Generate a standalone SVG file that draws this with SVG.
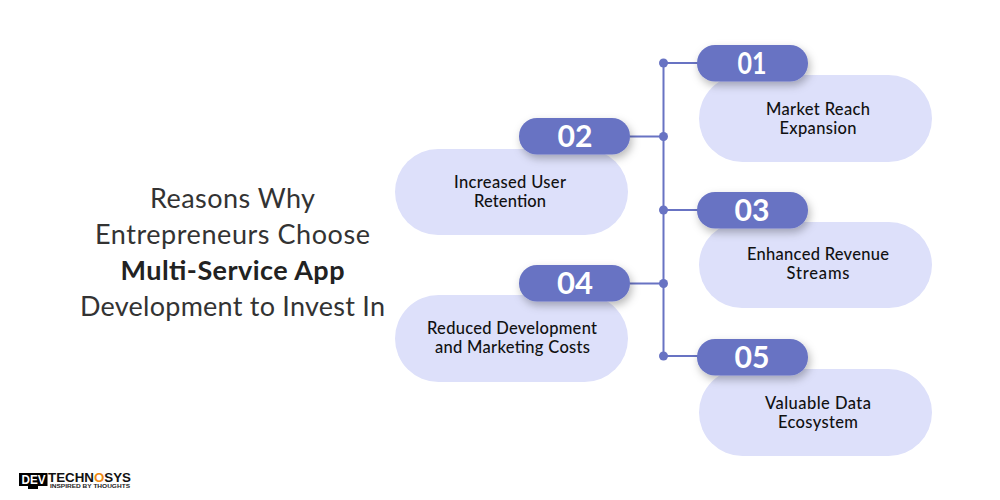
<svg xmlns="http://www.w3.org/2000/svg" width="1000" height="500" viewBox="0 0 1000 500">
<defs>
<filter id="sh" x="-20%" y="-30%" width="140%" height="170%"><feDropShadow dx="2" dy="4" stdDeviation="4" flood-color="#000" flood-opacity="0.28"/></filter>
</defs>
<style>
text{font-family:"Lato","Noto Sans",sans-serif;text-anchor:middle}
.card{fill:#dde0fa}
.pill{fill:#6873c3;filter:url(#sh)}
.num{font-size:30px;font-weight:700;fill:#fff}
.lbl{font-size:16.500px;font-weight:500;fill:#111}
.ttl{font-size:27px;fill:#333}
.ln{stroke:#6873c3;stroke-width:2;fill:none}
.dot{fill:#6873c3}
.logo{font-family:"Liberation Sans",sans-serif;font-weight:700}
</style>
<rect width="1000" height="500" fill="#fff"/>
<g id="title">
<text class="ttl" x="232.500" y="208" textLength="165">Reasons Why</text>
<text class="ttl" x="232.500" y="244" textLength="275">Entrepreneurs Choose</text>
<text class="ttl" x="232.500" y="280" textLength="224" style="font-weight:700;fill:#222">Multi-Service App</text>
<text class="ttl" x="232.500" y="316" textLength="305">Development to Invest In</text>
</g>
<g id="connectors">
<path class="ln" d="M663.500 63V356M663.500 63H700M630 136.500H663.500M663.500 210H700M630 283.500H663.500M663.500 356H700"/>
<circle class="dot" cx="663.500" cy="63" r="4.500"/>
<circle class="dot" cx="663.500" cy="136.500" r="4.500"/>
<circle class="dot" cx="663.500" cy="210" r="4.500"/>
<circle class="dot" cx="663.500" cy="283.500" r="4.500"/>
<circle class="dot" cx="663.500" cy="356" r="4.500"/>
</g>
<g id="node-01">
<rect class="card" x="699" y="75" width="233" height="87" rx="43.500"/>
<rect class="pill" x="697" y="45" width="111" height="36.500" rx="18"/>
<text class="num" x="752" y="74" textLength="29" lengthAdjust="spacingAndGlyphs">01</text>
<text class="lbl" x="818" y="115" textLength="104">Market Reach</text>
<text class="lbl" x="818" y="134" textLength="77">Expansion</text>
</g>
<g id="node-02">
<rect class="card" x="395" y="149" width="233" height="86" rx="43"/>
<rect class="pill" x="519" y="118" width="111" height="36.500" rx="18"/>
<text class="num" x="575" y="147" textLength="35" lengthAdjust="spacingAndGlyphs">02</text>
<text class="lbl" x="510" y="188" textLength="112">Increased User</text>
<text class="lbl" x="510" y="207" textLength="72">Retention</text>
</g>
<g id="node-03">
<rect class="card" x="699" y="222" width="233" height="86" rx="43"/>
<rect class="pill" x="697" y="192" width="111" height="36.500" rx="18"/>
<text class="num" x="752" y="221" textLength="35" lengthAdjust="spacingAndGlyphs">03</text>
<text class="lbl" x="818" y="260" textLength="142">Enhanced Revenue</text>
<text class="lbl" x="818" y="279" textLength="63">Streams</text>
</g>
<g id="node-04">
<rect class="card" x="395" y="295" width="233" height="87" rx="43.500"/>
<rect class="pill" x="519" y="265" width="111" height="36.500" rx="18"/>
<text class="num" x="575" y="294" textLength="36" lengthAdjust="spacingAndGlyphs">04</text>
<text class="lbl" x="512" y="334" textLength="170">Reduced Development</text>
<text class="lbl" x="512.500" y="353" textLength="155">and Marketing Costs</text>
</g>
<g id="node-05">
<rect class="card" x="699" y="369" width="233" height="87" rx="43.500"/>
<rect class="pill" x="697" y="339" width="111" height="36.500" rx="18"/>
<text class="num" x="752" y="368" textLength="35" lengthAdjust="spacingAndGlyphs">05</text>
<text class="lbl" x="818" y="409" textLength="106">Valuable Data</text>
<text class="lbl" x="818" y="428" textLength="80">Ecosystem</text>
</g>
<g id="logo">
<rect x="19" y="473" width="28.500" height="13" fill="#000"/>
<rect x="28" y="486" width="10" height="3" fill="#000"/>
<text class="logo" x="33.500" y="484" textLength="24" lengthAdjust="spacingAndGlyphs" style="font-size:12.500px;fill:#fff">DEV</text>
<text class="logo" x="89.500" y="482" textLength="83" lengthAdjust="spacingAndGlyphs" style="font-size:12px;fill:#111">TECHN<tspan fill="#f08a12">O</tspan>SYS</text>
<text class="logo" x="90" y="487.500" textLength="80" lengthAdjust="spacingAndGlyphs" style="font-size:4.500px;fill:#222">INSPIRED BY THOUGHTS</text>
</g>
</svg>
